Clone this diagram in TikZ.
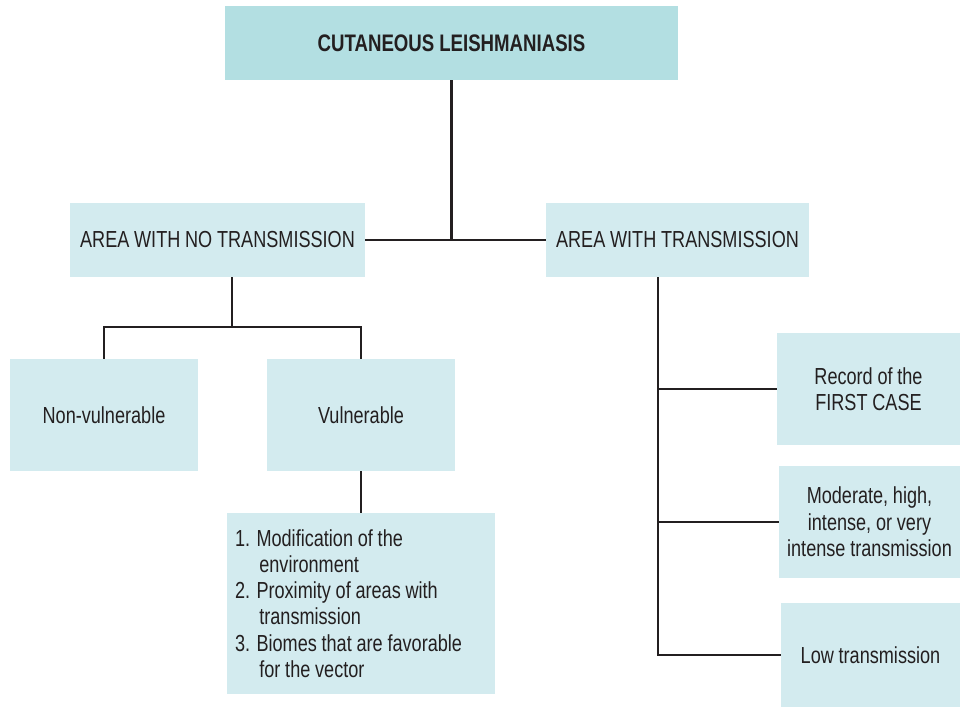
\documentclass[tikz,border=0pt]{standalone}
\usepackage{fontspec}
\setmainfont[FakeStretch=0.78,WordSpace=0.95]{Liberation Sans}
\usetikzlibrary{positioning}
\definecolor{headfill}{HTML}{B3DFE2}
\definecolor{boxfill}{HTML}{D3EBEF}
\definecolor{linecol}{HTML}{231F20}
\tikzset{%
  link/.style = {draw=linecol,line width=1.6pt},
  b/.style = {rectangle,fill=boxfill,inner sep=0pt,align=center,
        text=linecol},
  headbox/.style = {b,fill=headfill,font=\bfseries\fontsize{17}{20}\selectfont}
}

\begin{document}
\begin{tikzpicture}[x=0.025cm,y=-0.025cm]\fontsize{16.5}{18.7}\selectfont
   \useasboundingbox (0,0) rectangle (960,707);
   \node[headbox,minimum width=453*0.025cm,minimum height=74*0.025cm] (cl) at (451.5,43) {CUTANEOUS LEISHMANIASIS};

   \node[b,minimum width=295*0.025cm,minimum height=74*0.025cm] (notrans) at (217.5,240) {AREA WITH NO TRANSMISSION};
   \node[b,minimum width=263*0.025cm,minimum height=74*0.025cm] (trans) at (677.5,240) {AREA WITH TRANSMISSION};

   \node[b,minimum width=188*0.025cm,minimum height=112*0.025cm] (nonvul) at (104,415) {Non-vulnerable};
   \node[b,minimum width=188*0.025cm,minimum height=112*0.025cm] (vul) at (361,415) {Vulnerable};
   \node[b,minimum width=268*0.025cm,minimum height=181*0.025cm,text width=252*0.025cm,align=flush left] (causes) at (361,603.5)
      {1. Modification of the\\\hspace*{1.05em}environment\\2. Proximity of areas with\\\hspace*{1.05em}transmission\\3. Biomes that are favorable\\\hspace*{1.05em}for the vector};

   \node[b,minimum width=183*0.025cm,minimum height=112*0.025cm] (first) at (868.5,389) {Record of the\\FIRST CASE};
   \node[b,minimum width=181*0.025cm,minimum height=112*0.025cm] (high) at (869.5,522) {Moderate, high,\\intense, or very\\intense transmission};
   \node[b,minimum width=179*0.025cm,minimum height=104*0.025cm] (low) at (870.5,655) {Low transmission};

   \coordinate (split) at (232,327);
   \coordinate (spine) at (658,655);

   \draw[link] (cl) -- (cl |- notrans);
   \draw[link] (notrans) -- (trans);
   \draw[link] (notrans.south -| split) -- (split);
   \draw[link] (nonvul.north) |- (split) -| (vul.north);
   \draw[link] (vul) -- (causes);
   \draw[link] (trans.south -| spine) -- (spine) -- (low.west);
   \draw[link] (spine |- first) -- (first);
   \draw[link] (spine |- high) -- (high);
\end{tikzpicture}
\end{document}
